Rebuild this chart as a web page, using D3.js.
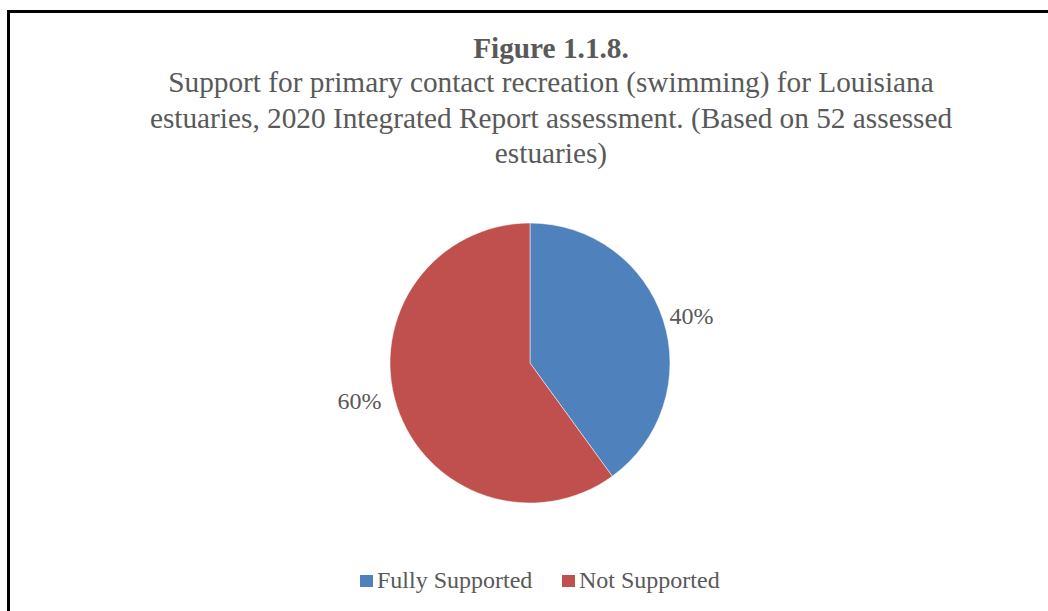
<!DOCTYPE html>
<html><head><meta charset="utf-8">
<script src="https://cdn.jsdelivr.net/npm/d3@7"></script>
<style>body{margin:0;background:#fff}svg{display:block}</style>
</head><body>
<svg id="c" width="1048" height="611"></svg>
<script>
const categories = ["Fully Supported", "Not Supported"];
const values = [40, 60];
const colors = ["#4F81BD", "#C0504D"];
const titleLines = ["Support for primary contact recreation (swimming) for Louisiana",
  "estuaries, 2020 Integrated Report assessment. (Based on 52 assessed",
  "estuaries)"];

const svg = d3.select("#c");
const font = "'Liberation Serif','Times New Roman',serif";
svg.append("rect").attr("x", 8.5).attr("y", 11.5).attr("width", 1100).attr("height", 700)
  .attr("fill", "#fff").attr("stroke", "#000").attr("stroke-width", 3);

svg.append("text").attr("x", 551).attr("y", 58).attr("text-anchor", "middle")
  .attr("font-family", font).attr("font-size", 29.3).attr("font-weight", "bold").attr("fill", "#595959")
  .text("Figure 1.1.8.");
titleLines.forEach((t, i) => svg.append("text").attr("x", 551).attr("y", 92 + i * 35.5)
  .attr("text-anchor", "middle").attr("font-family", font).attr("font-size", 29.3).attr("fill", "#595959").text(t));

const cx = 530, cy = 363, r = 140;
const pie = d3.pie().sort(null)(values);
const arc = d3.arc().innerRadius(0).outerRadius(r);
const g = svg.append("g").attr("transform", `translate(${cx},${cy})`);
g.selectAll("path").data(pie).join("path").attr("d", arc).attr("fill", (d, i) => colors[i])
  .attr("stroke", "#fff").attr("stroke-width", 0.5);
const labelArc = d3.arc().innerRadius(r + 32).outerRadius(r + 32);
const nudge = [[-2, 6], [-7, -16]];
const total = d3.sum(values);
g.selectAll("text.lbl").data(pie).join("text").attr("class", "lbl")
  .attr("transform", (d, i) => { const p = labelArc.centroid(d); return `translate(${p[0] + nudge[i][0]},${p[1] + nudge[i][1]})`; })
  .attr("text-anchor", "middle").attr("dy", "0.35em")
  .attr("font-family", font).attr("font-size", 24).attr("fill", "#595959")
  .text(d => Math.round(d.data / total * 100) + "%");

const legend = svg.append("g");
const lx = [360, 562];
categories.forEach((c, i) => {
  legend.append("rect").attr("x", lx[i]).attr("y", 575).attr("width", 13).attr("height", 12).attr("fill", colors[i]);
  legend.append("text").attr("x", lx[i] + 17).attr("y", 588).attr("font-family", font).attr("font-size", 24)
    .attr("fill", "#595959").text(c);
});
</script>
</body></html>
